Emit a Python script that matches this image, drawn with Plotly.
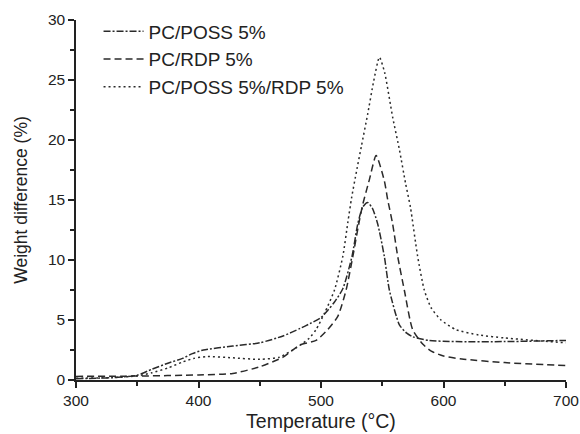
import plotly.graph_objects as go

# PC/POSS 5% (dash-dot)
poss_T = [300, 330, 350, 362, 375, 387, 395, 404, 428, 450, 469, 483, 491, 500, 505.5, 511, 517.8, 525.3, 530, 534, 538, 542, 546.3, 551.7, 555.8, 564, 570, 575, 588, 610, 650, 700]
poss_V = [0.1, 0.2, 0.4, 0.9, 1.4, 1.8, 2.2, 2.5, 2.83, 3.1, 3.67, 4.3, 4.7, 5.2, 5.8, 6.5, 7.6, 10.3, 13.0, 14.4, 14.8, 14.3, 13.0, 10.3, 7.5, 4.6, 3.9, 3.6, 3.3, 3.2, 3.2, 3.3]

# PC/RDP 5% (dashed)
rdp_T = [300, 350, 400, 428, 450, 469, 482.5, 496, 505.5, 513.7, 520.5, 526, 530.8, 534, 539.5, 545, 551.7, 554.5, 558.5, 562.6, 568, 574.8, 583, 590, 600, 615, 650, 700]
rdp_V = [0.3, 0.33, 0.42, 0.55, 1.1, 1.9, 2.9, 3.3, 4.2, 5.3, 7.5, 10.3, 13.0, 14.6, 16.7, 18.7, 16.6, 15.0, 13.0, 10.3, 7.5, 4.2, 3.0, 2.4, 2.0, 1.75, 1.45, 1.2]

# PC/POSS 5%/RDP 5% (dotted)
both_T = [300, 330, 350, 362, 375, 387, 396, 406.5, 428, 450, 466, 480, 490.6, 496, 503, 511, 517.8, 522, 525, 529, 533, 538, 543, 547.7, 552, 558.5, 564, 569, 573, 578.9, 584.3, 590, 598, 610, 629, 650, 700]
both_V = [0.15, 0.2, 0.35, 0.6, 1.0, 1.5, 1.8, 1.95, 1.85, 1.72, 1.9, 2.7, 3.5, 4.2, 5.6, 7.5, 10.3, 13.2, 15.2, 17.4, 19.5, 22.1, 24.9, 26.9, 25.6, 21.9, 19.2, 16.4, 14.4, 10.3, 7.5, 6.0, 5.0, 4.2, 3.75, 3.5, 3.1]

names = ["PC/POSS 5%", "PC/RDP 5%", "PC/POSS 5%/RDP 5%"]
x_ticks = [300, 400, 500, 600, 700]
y_ticks = [0, 5, 10, 15, 20, 25, 30]

line_col = "#2a2a2a"
fig = go.Figure()
for T, V, name, dash in [(poss_T, poss_V, names[0], "7px,2px,2px,2px"),
                         (rdp_T, rdp_V, names[1], "7px,4px"),
                         (both_T, both_V, names[2], "2px,3px")]:
    fig.add_trace(go.Scatter(x=T, y=V, mode="lines", name=name,
                             line=dict(color=line_col, width=1.5, dash=dash,
                                       shape="spline", smoothing=0.6)))

font_family = "Liberation Sans, Arial, sans-serif"
axis_col = "#222222"
fig.update_layout(
    width=580, height=434,
    margin=dict(l=76, r=14, t=20, b=54, autoexpand=False),
    paper_bgcolor="white", plot_bgcolor="white",
    font=dict(family=font_family, size=15.5, color="#222222"),
    showlegend=True,
    legend=dict(x=0.046, y=1.021, xanchor="left", yanchor="top",
                bgcolor="rgba(0,0,0,0)", font=dict(size=19),
                tracegroupgap=0, itemwidth=40),
    xaxis=dict(range=[300, 700], tickvals=x_ticks, showline=True, automargin=False,
               linecolor=axis_col, linewidth=1.5, ticks="outside", ticklen=6,
               tickwidth=1.5, tickcolor=axis_col, showgrid=False, zeroline=False,
               ticklabeloverflow="allow", tickfont=dict(size=15.5),
               minor=dict(tickvals=[350, 450, 550, 650], ticks="outside", ticklen=4,
                          tickwidth=1.5, tickcolor=axis_col, showgrid=False),
               title=dict(text="Temperature (°C)", font=dict(size=19.5), standoff=6)),
    yaxis=dict(range=[0, 30], tickvals=y_ticks, showline=True, automargin=False,
               linecolor=axis_col, linewidth=1.5, ticks="outside", ticklen=6,
               tickwidth=1.5, tickcolor=axis_col, showgrid=False, zeroline=False,
               ticklabeloverflow="allow",
               minor=dict(tickvals=[2.5, 7.5, 12.5, 17.5, 22.5, 27.5], ticks="outside",
                          ticklen=4, tickwidth=1.5, tickcolor=axis_col, showgrid=False),
               title=dict(text="Weight difference (%)", font=dict(size=17.5), standoff=16)),
)

# remove the default 8px page margin so the 580x434 figure fills the window exactly
fig.write_html("out.html",
               config={"displayModeBar": False},
               post_script="document.body.style.margin='0';document.body.style.overflow='hidden';")
